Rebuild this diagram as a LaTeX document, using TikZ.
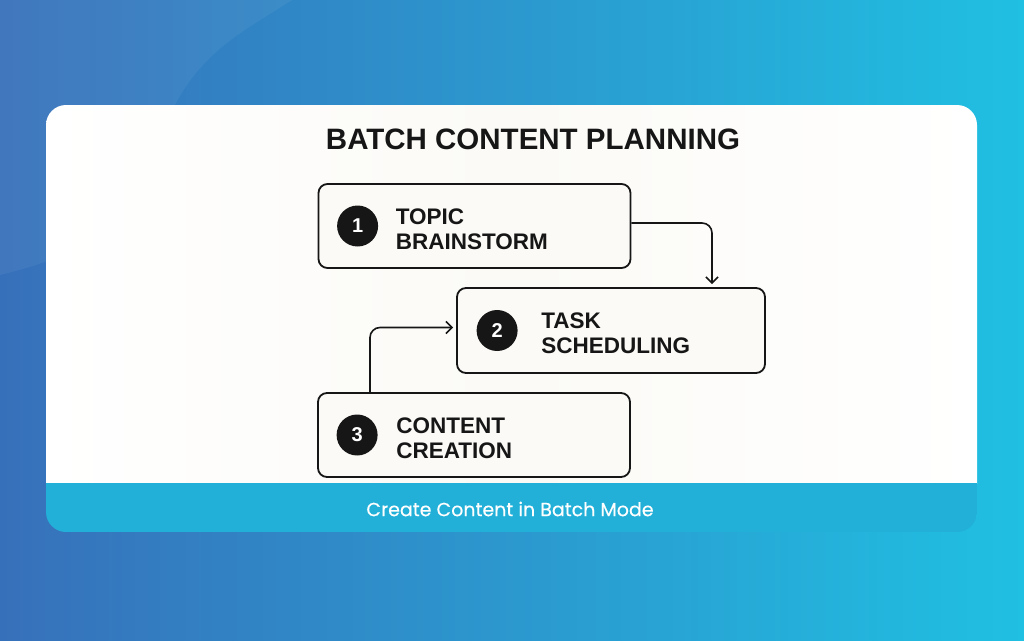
\documentclass[tikz,border=0pt]{standalone}
\usepackage{fontspec}
\setmainfont{Liberation Sans}
\newfontfamily\footfont[FakeBold=0.4]{Poppins}
\usetikzlibrary{positioning,arrows.meta,calc}

\definecolor{bgleft}{RGB}{55,112,186}
\definecolor{bgright}{RGB}{32,192,226}
\definecolor{band}{RGB}{34,176,216}
\definecolor{paper}{RGB}{251,250,246}
\definecolor{ink}{RGB}{22,22,22}

\tikzset{
  stepbox/.style={draw=ink, line width=1.8pt, rounded corners=9pt, fill=paper,
    minimum width=312pt, minimum height=84pt, inner sep=0pt},
  badge/.style={circle, fill=ink, minimum size=41pt, inner sep=0pt, text=white,
    font=\fontsize{20}{20}\selectfont\bfseries},
  steptext/.style={anchor=west, align=left, inner sep=0pt, text=ink,
    font=\fontsize{22.5}{25}\selectfont\bfseries},
  flow/.style={draw=ink, line width=1.6pt, rounded corners=10pt,
    -{Straight Barb[length=6pt,width=12pt]}, shorten >=3pt}
}

\begin{document}
\begin{tikzpicture}[x=1pt, y=-1pt]
\useasboundingbox (0,0) rectangle (1024,640);

% background
\shade[left color=bgleft, right color=bgright] (0,0) rectangle (1024,640);
\fill[white, opacity=.05] (0,0) -- (292,0) .. controls (230,40) and (180,60) .. (150,170)
  .. controls (120,240) and (60,260) .. (0,275) -- cycle;

% card with footer band
\begin{scope}
  \clip[rounded corners=20pt] (46,105) rectangle (977,532);
  \shade[left color=white, right color=white, middle color=paper] (46,105) rectangle (977,483);
  \fill[band] (46,483) rectangle (977,532);
\end{scope}

% title
\node[font=\fontsize{29.5}{30}\selectfont\bfseries, text=ink, anchor=base] (title) at (533,149) {BATCH CONTENT PLANNING};

% steps
\node[stepbox] (topic) at (474.5,226) {};
\node[stepbox, minimum width=308pt, minimum height=85pt] (task) at (611,330.5) {};
\node[stepbox] (content) at (474,435) {};

\node[badge] (n1) at ([xshift=40pt]topic.west) {1};
\node[badge] (n2) at ([xshift=41pt]task.west) {2};
\node[badge] (n3) at ([xshift=40pt]content.west) {3};

\node[steptext] (t1) at ([xshift=78pt,yshift=-3pt]topic.west) {TOPIC\\BRAINSTORM};
\node[steptext] (t2) at ([xshift=85pt,yshift=-3pt]task.west) {TASK\\SCHEDULING};
\node[steptext] (t3) at ([xshift=79pt,yshift=-3pt]content.west) {CONTENT\\CREATION};

% connectors
\draw[flow] ([yshift=3pt]topic.east) -| ([xshift=101pt]task.north);
\draw[flow] ([xshift=-104pt]content.north) |- ([yshift=3pt]task.west);

% footer
\node[font=\footfont\fontsize{19}{19}\selectfont, text=white] (caption) at (510,509) {Create Content in Batch Mode};
\end{tikzpicture}
\end{document}
